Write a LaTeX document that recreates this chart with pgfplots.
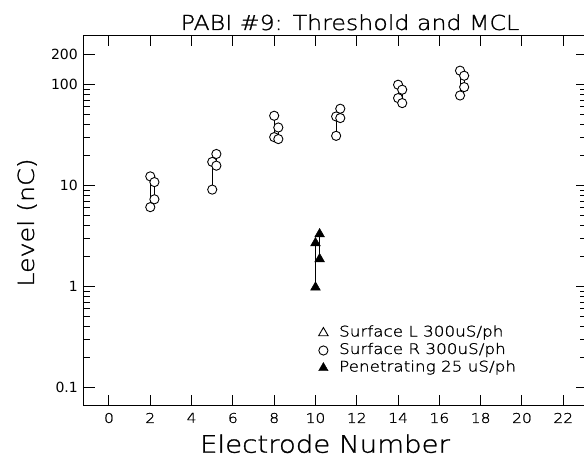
\documentclass[border=0pt]{standalone}
\usepackage{fontspec}
\setmainfont{DejaVu Sans}
\newfontfamily\hfont[FakeStretch=1.15, FakeBold=1.2]{DejaVu Sans ExtraLight}
\usepackage{pgfplots}
\pgfplotsset{compat=1.18}
\begin{document}
\begin{tikzpicture}[x=1pt,y=1pt]
\begin{axis}[
  at={(0,0)}, anchor=south west,
  scale only axis, width=502pt, height=370pt,
  xmin=-1.21, xmax=23.1,
  ymode=log, ymin=0.066, ymax=304,
  xtick={0,2,...,22}, minor xtick={},
  ytick={0.1,1,10,100,200}, yticklabels={0.1,1,10,100,200},
  minor ytick={0.2,0.3,0.4,0.5,0.6,0.7,0.8,0.9,2,3,4,5,6,7,8,9,20,30,40,50,60,70,80,90},
  tick align=inside, major tick length=10.5pt, minor tick length=6pt,
  axis line style={line width=1pt},
  every tick/.style={black, line width=1pt},
  /pgf/number format/assume math mode=true,
  xticklabel style={font=\hfont\fontsize{13.5}{13.5}\selectfont, inner sep=0pt, yshift=-7pt},
  yticklabel style={font=\fontsize{14}{14}\selectfont, inner sep=0pt, xshift=-6pt},
  unbounded coords=jump,
  legend style={draw=none, fill=none, at={(0.467,0.2146)}, anchor=north west,
    inner sep=0pt, column sep=11pt, row sep=4.5pt,
    font=\hfont\fontsize{14.6}{14.6}\selectfont,
    nodes={inner sep=0pt, text height=10pt, text depth=3pt}},
  legend cell align=left,
]
\addplot[black, line width=0.8pt, mark=*, mark size=4.6pt,
  mark options={fill=white, line width=0.9pt}, forget plot] coordinates {
  (2,12.3) (2,6.1) (2,nan)
  (2.2,10.8) (2.2,7.3) (2.2,nan)
  (5,17.1) (5,9.1) (5,nan)
  (5.2,20.5) (5.2,15.7) (5.2,nan)
  (8,49) (8,30.1) (8,nan)
  (8.2,37.5) (8.2,28.8) (8.2,nan)
  (11,48.2) (11,31) (11,nan)
  (11.2,57.5) (11.2,46.5) (11.2,nan)
  (14,99.4) (14,73.3) (14,nan)
  (14.2,88.7) (14.2,65.4) (14.2,nan)
  (17,137) (17,77.8) (17,nan)
  (17.2,122) (17.2,94.2)
};
\addplot[black, line width=0.8pt, mark=triangle*, mark size=5.5pt,
  mark options={fill=black, line width=0.6pt}, forget plot] coordinates {
  (10,2.69) (10,0.98) (10,nan)
  (10.2,3.3) (10.2,1.87)
};
\addlegendimage{only marks, black, mark=triangle, mark size=5.5pt, mark options={line width=0.9pt}}
\addlegendentry{Surface L 300uS/ph}
\addlegendimage{only marks, black, mark=o, mark size=4.6pt, mark options={line width=0.9pt}}
\addlegendentry{Surface R 300uS/ph}
\addlegendimage{only marks, black, mark=triangle*, mark size=5.5pt, mark options={fill=black}}
\addlegendentry{Penetrating 25 uS/ph}
\end{axis}
\node[font=\hfont\fontsize{20.6}{20.6}\selectfont, anchor=base] at (266,375.7) {PABI \#9: Threshold and MCL};
\node[font=\hfont\fontsize{22}{22}\selectfont, rotate=90] at (-57,183.2) {Level (nC)};
\node[font=\hfont\fontsize{24}{24}\selectfont, anchor=base] at (241,-47) {Electrode Number};
\pgfresetboundingbox
\useasboundingbox (-84,-52.3) rectangle (500,405.7);
\end{tikzpicture}
\end{document}
